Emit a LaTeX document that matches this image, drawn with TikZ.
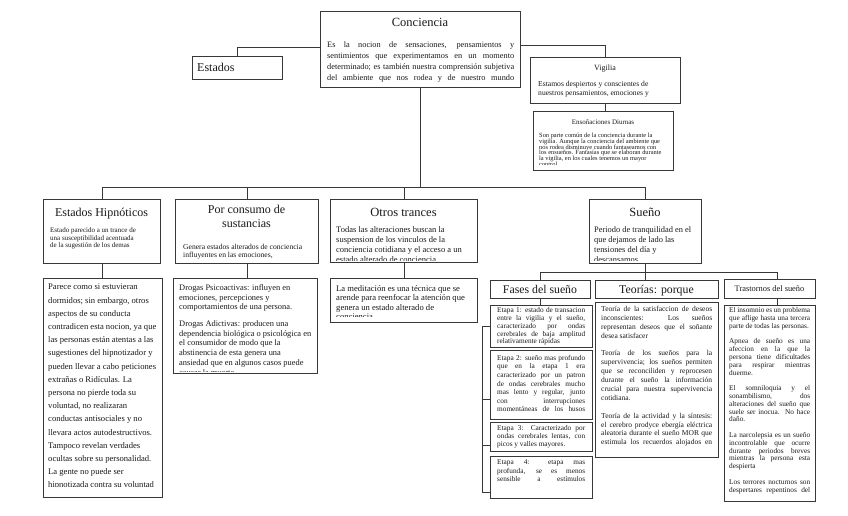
\documentclass[tikz,border=0pt]{standalone}
\usepackage{fontspec}
\setmainfont{Liberation Serif}
\usetikzlibrary{calc}
\newcommand\jl[2]{\makebox[#1pt][s]{#2}}
\newcommand\mkbox[5]{\node[boxst, anchor=north west, minimum width={(#4)-(#2)}, minimum height={(#5)-(#3)}] (#1) at (#2,#3) {};}
\newcommand\mktext[7]{\begin{scope}\clip ($(#1.north west)+(0.7,0.7)$) rectangle ($(#1.north east)+(-0.7,#4)$);
\node[anchor=north west, inner sep=0pt, align=left, text=black!90, font={\fontsize{#5}{#6}\selectfont}] (#1t) at (#2,{#3-0.69*#5}) {#7};\end{scope}}
\begin{document}
\begin{tikzpicture}[x=1pt,y=-1pt,
 boxst/.style={draw=black!78, line width=1.25pt, fill=white, inner sep=0pt, rectangle},
 conn/.style={draw=black!78, line width=1pt},
 ttl/.style={inner sep=0pt, text=black!90}]
\fill[white] (0,0) rectangle (848,515);
\useasboundingbox (0,0) rectangle (848,515);

% ---------- top level
\mkbox{conc}{320}{11}{520}{87}
\node[ttl, anchor=base, font=\fontsize{12.5}{14}\selectfont] (concT) at (420,26.5) {Conciencia};
\mktext{conc}{327}{47}{75}{8.3}{11}{\jl{187}{Es la nocion de sensaciones, pensamientos y}\\\jl{187}{sentimientos que experimentamos en un momento}\\\jl{187}{determinado; es también nuestra comprensión subjetiva}\\\jl{187}{del ambiente que nos rodea y de nuestro mundo}}

\mkbox{est}{192}{56}{282}{79}
\node[ttl, anchor=base west, font=\fontsize{12}{14}\selectfont] (estT) at (197,71.5) {Estados};

\mkbox{vig}{530}{57}{680}{103}
\node[ttl, anchor=base, font=\fontsize{8}{9}\selectfont] (vigT) at (605,70) {Vigilia};
\mktext{vig}{538}{86}{45}{7.6}{9}{Estamos despiertos y conscientes de\\nuestros pensamientos, emociones y}

\mkbox{ens}{533}{111}{673}{170}
\node[ttl, anchor=base, font=\fontsize{7}{8}\selectfont] (ensT) at (603,124) {Ensoñaciones Diurnas};
\mktext{ens}{539}{137}{53.5}{6.4}{5.9}{Son parte común de la conciencia durante la\\vigilia. Aunque la conciencia del ambiente que\\nos rodea disminuye cuando fantaseamos con\\los ensueños. Fantasías que se elaboran durante\\la vigilia, en los cuales tenemos un mayor\\control}

\draw[conn] (est.north) |- ([yshift=-36pt]conc.north west);
\draw[conn] (vig.north) |- ([yshift=-34pt]conc.north east);
\draw[conn] (vig.south) -- (vig.south |- ens.north);

% ---------- second level
\mkbox{eh}{43}{199}{160}{263}
\node[ttl, anchor=base, font=\fontsize{12}{14}\selectfont] (ehT) at (101.5,216) {Estados Hipnóticos};
\mktext{eh}{50}{232}{62}{7}{7.8}{Estado parecido a un trance de\\una susceptibilidad acentuada\\de la sugestión de los demas}

\mkbox{pc}{175}{199}{318}{263}
\node[ttl, anchor=north, align=center, font=\fontsize{12}{14}\selectfont] (pcT) at (246.5,204.7) {Por consumo de\\sustancias};
\mktext{pc}{183}{249}{62}{7.6}{8.3}{Genera estados alterados de conciencia\\influyentes en las emociones,}

\mkbox{ot}{330}{199}{477}{262}
\node[ttl, anchor=base, font=\fontsize{12.5}{14}\selectfont] (otT) at (403.5,216) {Otros trances};
\mktext{ot}{336}{232}{61.5}{8.5}{10.2}{Todas las alteraciones buscan la\\suspension de los vinculos de la\\conciencia cotidiana y el acceso a un\\estado alterado de conciencia.}

\mkbox{su}{589}{199}{701}{263}
\node[ttl, anchor=base, font=\fontsize{12.5}{14}\selectfont] (suT) at (645,216) {Sueño};
\mktext{su}{594}{232}{61.5}{8.4}{10.2}{Periodo de tranquilidad en el\\que dejamos de lado las\\tensiones del día y\\descansamos}

\coordinate (bus) at (0,187);
\draw[conn] (conc.south) -- (conc.south |- bus);
\draw[conn] (eh.north) -- (eh.north |- bus) -- (su.north |- bus) -- (su.north);
\draw[conn] (pc.north) -- (pc.north |- bus);
\draw[conn] (ot.north) -- (ot.north |- bus);

% ---------- third level, left
\mkbox{ehb}{43}{278}{162}{497}
\mktext{ehb}{48}{290}{208}{8.6}{13.2}{Parece como si estuvieran\\dormidos; sin embargo, otros\\aspectos de su conducta\\contradicen esta nocion, ya que\\las personas están atentas a las\\sugestiones del hipnotizador y\\pueden llevar a cabo peticiones\\extrañas o Ridículas. La\\persona no pierde toda su\\voluntad, no realizaran\\conductas antisociales y no\\llevara actos autodestructivos.\\Tampoco revelan verdades\\ocultas sobre su personalidad.\\La gente no puede ser\\hipnotizada contra su voluntad}
\draw[conn] (eh.south) -- (eh.south |- ehb.north);

\mkbox{pcb}{173}{278}{317}{373}
\mktext{pcb}{179}{290}{93}{8.4}{9.8}{Drogas Psicoactivas: influyen en\\emociones, percepciones y\\comportamientos de una persona.\\[6.5pt]Drogas Adictivas: producen una\\dependencia biológica o psicológica en\\el consumidor de modo que la\\abstinencia de esta genera una\\ansiedad que en algunos casos puede\\causar la muerte.}
\draw[conn] (pc.south) -- (pc.south |- pcb.north);

\mkbox{otb}{330}{278}{477}{322}
\mktext{otb}{336}{291}{38}{8.6}{9.5}{La meditación es una técnica que se\\arende para reenfocar la atención que\\genera un estado alterado de\\conciencia}
\draw[conn] (ot.south) -- (ot.south |- otb.north);

% ---------- Sueño subtree
\mkbox{fa}{490}{280}{590}{298}
\node[ttl, anchor=base, font=\fontsize{11.8}{13}\selectfont] (faT) at (540,293.5) {Fases del sueño};
\mkbox{te}{595}{280}{718}{298}
\node[ttl, anchor=base, font=\fontsize{11.8}{13}\selectfont] (teT) at (656.5,293.5) {Teorías: porque};
\mkbox{tr}{724}{279}{815}{298}
\node[ttl, anchor=base, font=\fontsize{8.4}{10}\selectfont] (trT) at (769.5,291.5) {Trastornos del sueño};

\coordinate (bus2) at (0,272);
\coordinate (trc) at ([xshift=7pt]tr.north);
\draw[conn] (su.south) -- (su.south |- te.north);
\draw[conn] (fa.north) -- (fa.north |- bus2) -- (trc |- bus2) -- (trc);

\mkbox{e1}{490}{305}{592}{347}
\mkbox{e2}{490}{350}{592}{419}
\mkbox{e3}{490}{422}{592}{451}
\mkbox{e4}{490}{456}{592}{498}
\draw[conn] (fa.south) -- (fa.south |- e1.north);

\mktext{e1}{497}{312.5}{40}{7.3}{7.8}{\jl{88}{Etapa 1: estado de transacion}\\\jl{88}{entre la vigilia y el sueño,}\\\jl{88}{caracterizado por ondas}\\\jl{88}{cerebrales de baja amplitud}\\relativamente rápidas}
\mktext{e2}{497}{360}{67}{7.3}{8.6}{\jl{88}{Etapa 2: sueño mas profundo}\\\jl{88}{que en la etapa 1 era}\\\jl{88}{caracterizado por un patron}\\\jl{88}{de ondas cerebrales mucho}\\\jl{88}{mas lento y regular, junto}\\\jl{88}{con interrupciones}\\\jl{88}{momentáneas de los husos}}
\mktext{e3}{497}{430.5}{28}{7.3}{7.8}{\jl{88}{Etapa 3: Caracterizado por}\\\jl{88}{ondas cerebrales lentas, con}\\picos y valles mayores.}
\mktext{e4}{497}{465}{29}{7.3}{8.5}{\jl{88}{Etapa 4: etapa mas}\\\jl{88}{profunda, se es menos}\\\jl{88}{sensible a estímulos}}

\coordinate (brk) at (482,0);
\coordinate (t2) at ($(e2.south west)+(0,-21)$);
\coordinate (t3) at ($(e3.south west)+(0,-7)$);
\coordinate (t4) at ($(e4.south west)+(0,-7)$);
\draw[conn] (e1.west) -- (e1.west -| brk) -- (t4 -| brk) -- (t4);
\draw[conn] (t2) -- (t2 -| brk);
\draw[conn] (t3) -- (t3 -| brk);

\mkbox{teb}{595}{302}{718}{457}
\mktext{teb}{601}{311}{147}{7.5}{8.9}{\jl{111}{Teoría de la satisfaccion de deseos}\\\jl{111}{inconscientes: Los sueños}\\\jl{111}{representan deseos que el soñante}\\desea satisfacer\\[8.9pt]\jl{111}{Teoría de los sueños para la}\\\jl{111}{supervivencia; los sueños permiten}\\\jl{111}{que se reconciliden y reprocesen}\\\jl{111}{durante el sueño la información}\\\jl{111}{crucial para nuestra supervivencia}\\cotidiana.\\[8.9pt]\jl{111}{Teoría de la actividad y la síntesis:}\\\jl{111}{el cerebro prodyce ebergía eléctrica}\\\jl{111}{aleatoria durante el sueño MOR que}\\\jl{111}{estimula los recuerdos alojados en}}

\mkbox{trb}{724}{305}{815}{501}
\coordinate (trd) at ([xshift=7pt]tr.south);
\draw[conn] (trd) -- (trd |- trb.north);
\mktext{trb}{729}{312.5}{190}{7.3}{7.8}{\jl{81}{El insomnio es un problema}\\\jl{81}{que aflige hasta una tercera}\\parte de todas las personas.\\[7.8pt]\jl{81}{Apnea de sueño es una}\\\jl{81}{afeccion en la que la}\\\jl{81}{persona tiene dificultades}\\\jl{81}{para respirar mientras}\\duerme.\\[7.8pt]\jl{81}{El somniloquia y el}\\\jl{81}{sonambilismo, dos}\\\jl{81}{alteraciones del sueño que}\\\jl{81}{suele ser inocua. No hace}\\daño.\\[7.8pt]\jl{81}{La narcolepsia es un sueño}\\\jl{81}{incontrolable que ocurre}\\\jl{81}{durante periodos breves}\\\jl{81}{mientras la persona esta}\\despierta\\[7.8pt]\jl{81}{Los terrores nocturnos son}\\\jl{81}{despertares repentinos del}}
\end{tikzpicture}
\end{document}
